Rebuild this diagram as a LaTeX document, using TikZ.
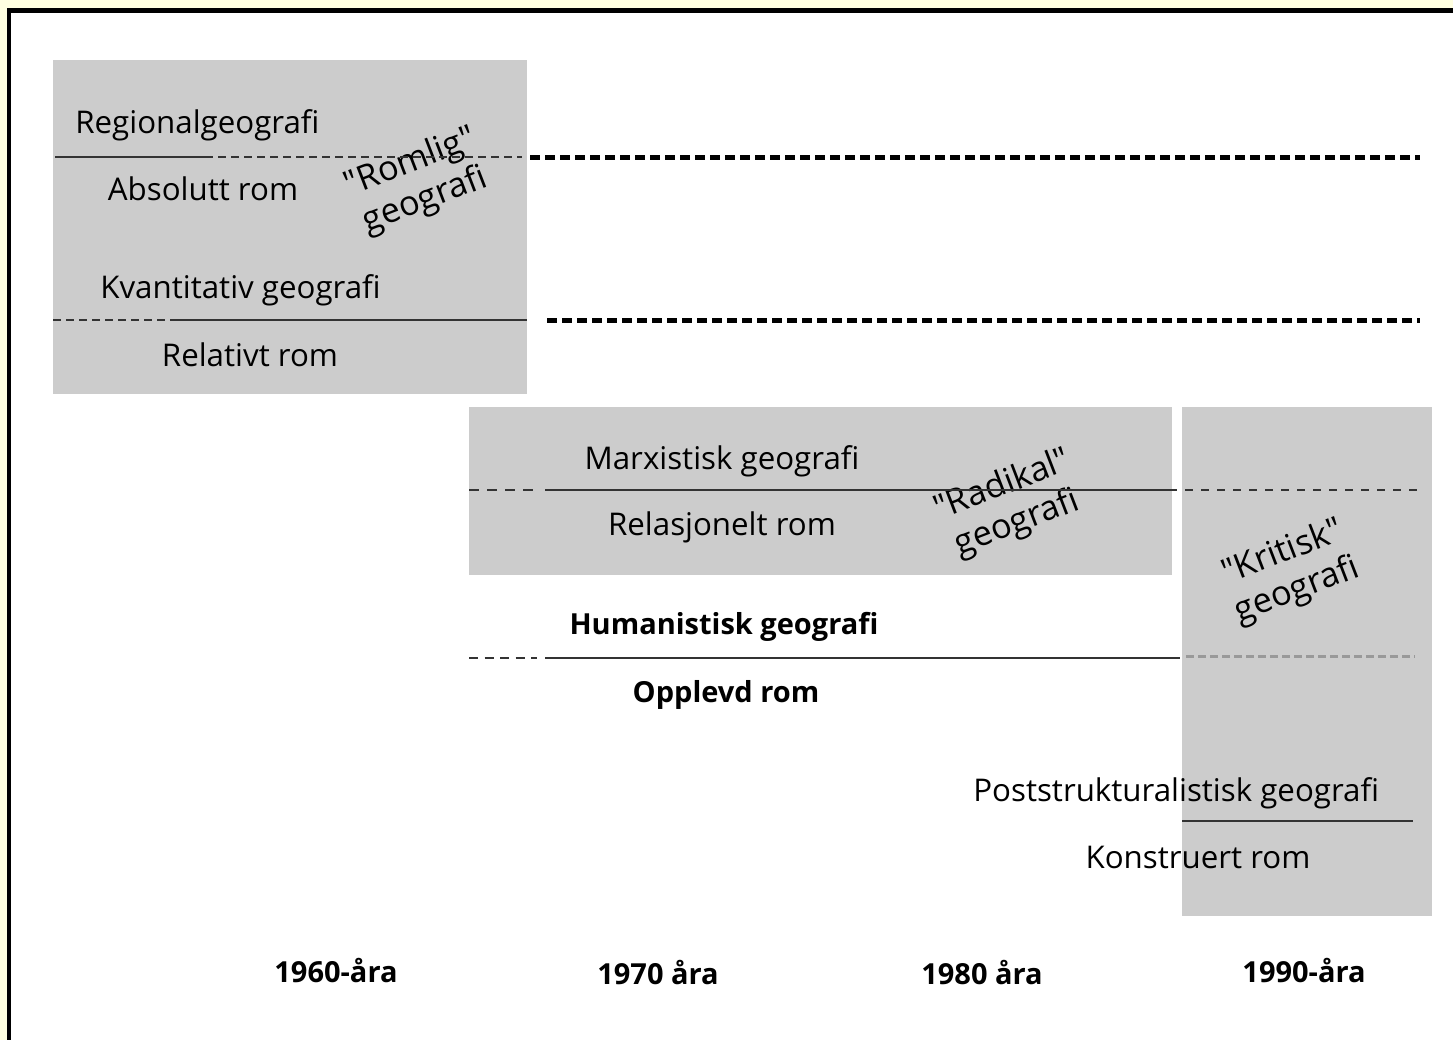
\documentclass[tikz,border=0pt]{standalone}
\usepackage{fontspec}
\setmainfont{Open Sans}
\usepackage{xcolor}
\usepackage{tikz}

\definecolor{panel}{HTML}{CCCCCC}
\definecolor{paper}{HTML}{FFFFE0}
\definecolor{ink}{HTML}{333333}

\begin{document}
\begin{tikzpicture}[
  x=0.2mm, y=-0.2mm,
  band/.style={fill=panel, draw=none},
  lbl/.style={anchor=base, inner sep=0pt, font=\fontsize{17.8}{20}\selectfont},
  boldlbl/.style={lbl, font=\bfseries\fontsize{16.5}{19}\selectfont},
  tilt/.style={rotate=21, align=center, inner sep=0pt,
               font=\fontsize{19.5}{23}\selectfont},
  rule/.style={draw=ink, line width=0.4mm},
  fine/.style={draw=ink, line width=0.35mm, dash pattern=on 1.6mm off 1mm},
  heavy/.style={draw=black, line width=1mm, dash pattern=on 2mm off 1mm}
]
\useasboundingbox (0,0) rectangle (1453,1040);
\fill[paper] (0,0) rectangle (1453,1040);
\fill[black] (7,8) rectangle (1453,1040);
\fill[white] (11,13) rectangle (1453,1040);

% grey period panels
\fill[band] (53,60) rectangle (527,394);
\fill[band] (469,407) rectangle (1172,575);
\fill[band] (1182,407) rectangle (1432,916);

% 1960s
\node[lbl, anchor=base west] (regional) at (75,133) {Regionalgeografi};
\node[lbl] (absolutt) at (203,200) {Absolutt rom};
\node[lbl, anchor=base west] (kvant) at (100,298) {Kvantitativ geografi};
\node[lbl] (relativt) at (250,366) {Relativt rom};
\node[tilt] (romlig) at (418,182) {\textquotedbl Romlig\textquotedbl\\geografi};
\draw[rule] (55,157) -- (205,157);
\draw[fine] (205,157) -- (522,157);
\draw[heavy] (530,157) -- (1420,157);
\draw[fine] (53,320) -- (175,320);
\draw[rule] (175,320) -- (527,320);
\draw[heavy] (547,320) -- (1420,320);

% 1970s
\node[lbl] (marx) at (722,469) {Marxistisk geografi};
\node[lbl] (relasjon) at (722,535) {Relasjonelt rom};
\node[tilt] (radikal) at (1010,505) {\textquotedbl Radikal\textquotedbl\\geografi};
\draw[fine, dash pattern=on 2mm off 1.6mm] (469,490) -- (537,490);
\draw[rule] (545,490) -- (1177,490);
\draw[fine, dash pattern=on 1.6mm off 1.6mm] (1185,490) -- (1420,490);

\node[boldlbl] (human) at (724,634) {Humanistisk geografi};
\node[boldlbl] (opplevd) at (726,702) {Opplevd rom};
\draw[fine, line width=0.55mm, dash pattern=on 1.8mm off 1.3mm] (469,658) -- (537,658);
\draw[rule] (545,658) -- (1180,658);
\draw[draw=gray!80, line width=0.6mm, dash pattern=on 1.6mm off 0.8mm] (1186,656) -- (1415,656);

% 1990s
\node[tilt] (kritisk) at (1290,572) {\textquotedbl Kritisk\textquotedbl\\geografi};
\node[lbl, anchor=base west] (post) at (973,801) {Poststrukturalistisk geografi};
\node[lbl] (konstruert) at (1198,868) {Konstruert rom};
\draw[rule] (1182,821) -- (1413,821);

% decades
\node[boldlbl] (y60) at (336,982) {1960-åra};
\node[boldlbl] (y70) at (658,984) {1970 åra};
\node[boldlbl] (y80) at (982,984) {1980 åra};
\node[boldlbl] (y90) at (1304,982) {1990-åra};
\end{tikzpicture}
\end{document}
